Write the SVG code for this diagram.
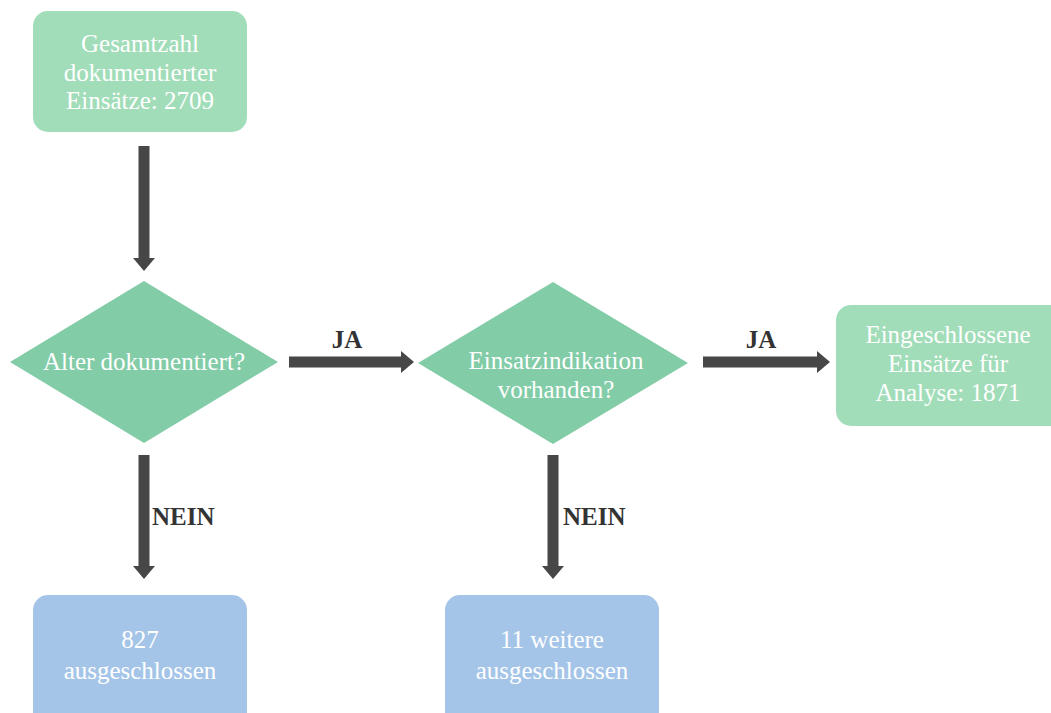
<svg xmlns="http://www.w3.org/2000/svg" width="1051" height="713" viewBox="0 0 1051 713">
<defs>
<style>
.box{fill:#a2ddb9}
.dia{fill:#82cca8}
.ex{fill:#a5c5e8}
.t{font-size:25px;fill:#ffffff;text-anchor:middle}
.lbl{font-size:25px;font-weight:bold;fill:#333333}
.conn{stroke:#474747;stroke-width:11;fill:none}
</style>
<marker id="ah" markerUnits="userSpaceOnUse" markerWidth="22" markerHeight="22" refX="0" refY="11" orient="auto">
<path d="M0,0 L13,11 L0,22 Z" fill="#474747"/>
</marker>
</defs>
<rect width="1051" height="713" fill="#ffffff"/>
<g id="connectors" font-family="Liberation Serif, Times New Roman, serif">
<line class="conn" x1="144" y1="146" x2="144" y2="258" marker-end="url(#ah)"/>
<line class="conn" x1="289" y1="362" x2="401" y2="362" marker-end="url(#ah)"/>
<line class="conn" x1="703" y1="362" x2="817" y2="362" marker-end="url(#ah)"/>
<line class="conn" x1="144" y1="455" x2="144" y2="566" marker-end="url(#ah)"/>
<line class="conn" x1="553" y1="455" x2="553" y2="566" marker-end="url(#ah)"/>
<text class="lbl" font-family="Liberation Serif, Times New Roman, serif" x="347" y="348" text-anchor="middle">JA</text>
<text class="lbl" font-family="Liberation Serif, Times New Roman, serif" x="761" y="348" text-anchor="middle">JA</text>
<text class="lbl" font-family="Liberation Serif, Times New Roman, serif" x="152" y="525">NEIN</text>
<text class="lbl" font-family="Liberation Serif, Times New Roman, serif" x="563" y="525">NEIN</text>
</g>
<g id="start">
<rect class="box" x="33" y="11" width="214" height="121" rx="15"/>
<text class="t" font-family="Liberation Serif, Times New Roman, serif" x="140" y="52">Gesamtzahl</text>
<text class="t" font-family="Liberation Serif, Times New Roman, serif" x="140" y="81">dokumentierter</text>
<text class="t" font-family="Liberation Serif, Times New Roman, serif" x="140" y="109">Einsätze: 2709</text>
</g>
<g id="decision1">
<polygon class="dia" points="144,281 278,362 144,443 10,362"/>
<text class="t" font-family="Liberation Serif, Times New Roman, serif" x="144" y="370">Alter dokumentiert?</text>
</g>
<g id="decision2">
<polygon class="dia" points="553,282 688,363 553,444 418,363"/>
<text class="t" font-family="Liberation Serif, Times New Roman, serif" x="556" y="369">Einsatzindikation</text>
<text class="t" font-family="Liberation Serif, Times New Roman, serif" x="556" y="398">vorhanden?</text>
</g>
<g id="included">
<rect class="box" x="836" y="305" width="230" height="121" rx="15"/>
<text class="t" font-family="Liberation Serif, Times New Roman, serif" x="948" y="343">Eingeschlossene</text>
<text class="t" font-family="Liberation Serif, Times New Roman, serif" x="948" y="372">Einsätze für</text>
<text class="t" font-family="Liberation Serif, Times New Roman, serif" x="948" y="401">Analyse: 1871</text>
</g>
<g id="excluded1">
<rect class="ex" x="33" y="595" width="214" height="135" rx="15"/>
<text class="t" font-family="Liberation Serif, Times New Roman, serif" x="140" y="648">827</text>
<text class="t" font-family="Liberation Serif, Times New Roman, serif" x="140" y="679">ausgeschlossen</text>
</g>
<g id="excluded2">
<rect class="ex" x="445" y="595" width="214" height="135" rx="15"/>
<text class="t" font-family="Liberation Serif, Times New Roman, serif" x="552" y="648">11 weitere</text>
<text class="t" font-family="Liberation Serif, Times New Roman, serif" x="552" y="679">ausgeschlossen</text>
</g>
</svg>
